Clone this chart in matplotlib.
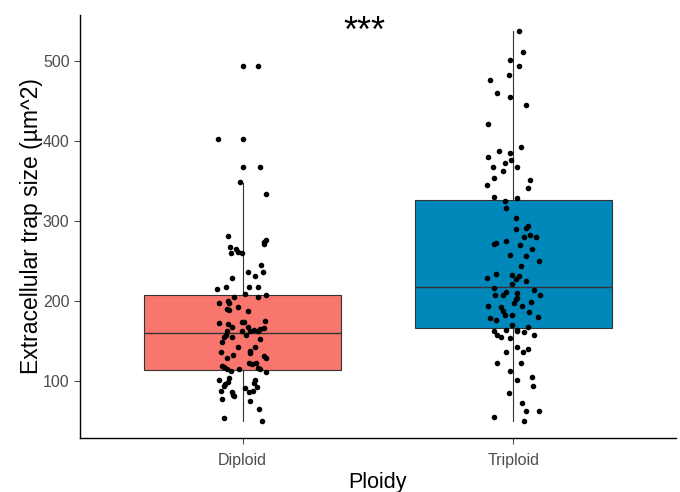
import numpy as np
import matplotlib.pyplot as plt

plt.rcParams['font.family'] = ['Liberation Sans', 'DejaVu Sans']

groups = ['Diploid', 'Triploid']
box_colors = ['#F8766D', '#0088BB']

# box statistics
q1 = [114, 166]
med = [160, 218]
q3 = [208, 326]
whis_lo = [50, 50]
whis_hi = [348, 537]
outliers = [[494, 403, 368], []]

# trap sizes (jittered points) and their horizontal jitter
diploid = [494, 403, 368, 349, 334, 281, 276, 274, 271, 267, 265, 261, 260, 260,
           245, 236, 236, 231, 229, 215, 217, 217, 218, 209, 205, 205, 208, 197,
           200, 198, 190, 189, 192, 187, 173, 171, 174, 174, 175, 167, 163, 163,
           167, 163, 164, 163, 165, 166, 157, 155, 155, 158, 153, 149, 142, 142,
           138, 135, 136, 133, 131, 129, 129, 123, 121, 123, 119, 117, 115, 113,
           115, 116, 115, 111, 101, 104, 99, 96, 94, 101, 97, 88, 91, 86, 88, 92,
           86, 83, 81, 78, 75, 65, 54, 50]
diploid_jit = [0.057, -0.090, 0.066, -0.009, 0.086, -0.055, 0.086, 0.078, 0.080,
               -0.046, -0.024, -0.018, -0.043, -0.001, 0.067, 0.021, 0.076, 0.046,
               -0.037, -0.094, -0.060, 0.024, 0.059, 0.009, -0.031, 0.059, 0.086,
               -0.085, -0.053, -0.050, -0.056, -0.049, -0.016, 0.021, -0.087,
               -0.053, -0.003, 0.006, 0.083, -0.037, -0.056, -0.001, 0.020, 0.026,
               0.042, 0.058, 0.066, 0.080, -0.060, -0.069, -0.040, 0.014, 0.065,
               -0.075, -0.016, 0.045, 0.026, 0.029, -0.079, -0.035, 0.078, 0.086,
               -0.059, 0.025, 0.034, 0.048, -0.077, -0.069, -0.056, -0.042, -0.012,
               0.058, 0.065, 0.086, -0.086, -0.050, -0.055, -0.063, -0.069, 0.046,
               0.043, -0.080, 0.009, 0.025, 0.037, 0.052, -0.039, -0.035, -0.031,
               -0.075, 0.029, 0.061, -0.069, 0.073]

triploid = [537, 511, 501, 494, 483, 476, 460, 455, 445, 421, 392, 387, 385, 380,
            376, 372, 367, 367, 362, 354, 351, 345, 341, 330, 329, 325, 316, 304,
            290, 291, 294, 280, 282, 280, 275, 271, 272, 270, 265, 257, 256, 250,
            244, 234, 229, 232, 231, 228, 225, 221, 216, 214, 208, 208, 211, 210,
            207, 204, 202, 198, 199, 194, 193, 194, 187, 182, 186, 182, 179, 176,
            180, 170, 168, 164, 164, 162, 162, 161, 157, 155, 154, 158, 143, 140,
            136, 136, 123, 123, 113, 101, 105, 94, 85, 72, 62, 63, 55, 50]
triploid_jit = [0.019, 0.036, -0.011, 0.019, -0.017, -0.086, -0.059, -0.014, 0.046,
                -0.094, 0.028, -0.053, -0.013, -0.092, -0.010, -0.032, -0.077, 0.014,
                -0.040, -0.070, 0.062, -0.097, 0.054, -0.073, 0.014, -0.032, -0.029,
                0.010, 0.008, 0.046, 0.053, 0.039, 0.062, 0.085, -0.029, -0.073,
                -0.064, 0.023, 0.070, -0.013, 0.046, 0.094, 0.028, -0.065, -0.097,
                -0.005, 0.019, 0.008, 0.046, -0.005, -0.071, 0.075, -0.068, -0.040,
                -0.028, 0.013, 0.097, 0.015, 0.008, 0.003, 0.064, -0.092, -0.046,
                0.031, -0.039, -0.032, 0.057, -0.005, -0.086, -0.065, 0.090, -0.005,
                0.054, -0.026, 0.013, 0.014, -0.070, 0.039, -0.059, -0.044, -0.011,
                0.075, 0.013, 0.054, 0.035, -0.026, -0.059, 0.028, -0.014, 0.014,
                0.069, 0.072, -0.017, 0.031, 0.046, 0.094, -0.071, 0.039]

fig = plt.figure(figsize=(6.8, 4.92), dpi=100)
ax = fig.add_axes([0.1176, 0.1098, 0.8764, 0.8597])

stats = []
for i in range(2):
    stats.append(dict(med=med[i], q1=q1[i], q3=q3[i], whislo=whis_lo[i],
                      whishi=whis_hi[i], fliers=outliers[i]))
bp = ax.bxp(stats, positions=[1, 2], widths=0.73, patch_artist=True,
            showcaps=False,
            boxprops=dict(edgecolor='#333333', linewidth=0.8),
            medianprops=dict(color='#333333', linewidth=1.0),
            whiskerprops=dict(color='#333333', linewidth=0.8),
            flierprops=dict(marker='o', markerfacecolor='black',
                            markeredgecolor='black', markersize=3))
for patch, c in zip(bp['boxes'], box_colors):
    patch.set_facecolor(c)

ax.scatter(1 + np.array(diploid_jit), diploid, s=9, color='black', zorder=3)
ax.scatter(2 + np.array(triploid_jit), triploid, s=9, color='black', zorder=3)

ax.text(1.45, 536, '***', ha='center', va='center', fontsize=26)

ax.set_xlim(0.4, 2.6)
ax.set_ylim(28.75, 557.5)
ax.set_xticks([1, 2])
ax.set_xticklabels(groups)
ax.set_yticks([100, 200, 300, 400, 500])
ax.tick_params(colors='#4D4D4D', labelsize=11.5, length=4, width=0.8)
ax.tick_params(axis='x', pad=7)
ax.set_xlabel('Ploidy', fontsize=15.5, labelpad=3)
ax.set_ylabel('Extracellular trap size (µm^2)', fontsize=16.5, labelpad=0)
ax.spines['top'].set_visible(False)
ax.spines['right'].set_visible(False)
ax.spines['left'].set_linewidth(1.0)
ax.spines['bottom'].set_linewidth(1.0)

fig.savefig('out.png', dpi=100)
